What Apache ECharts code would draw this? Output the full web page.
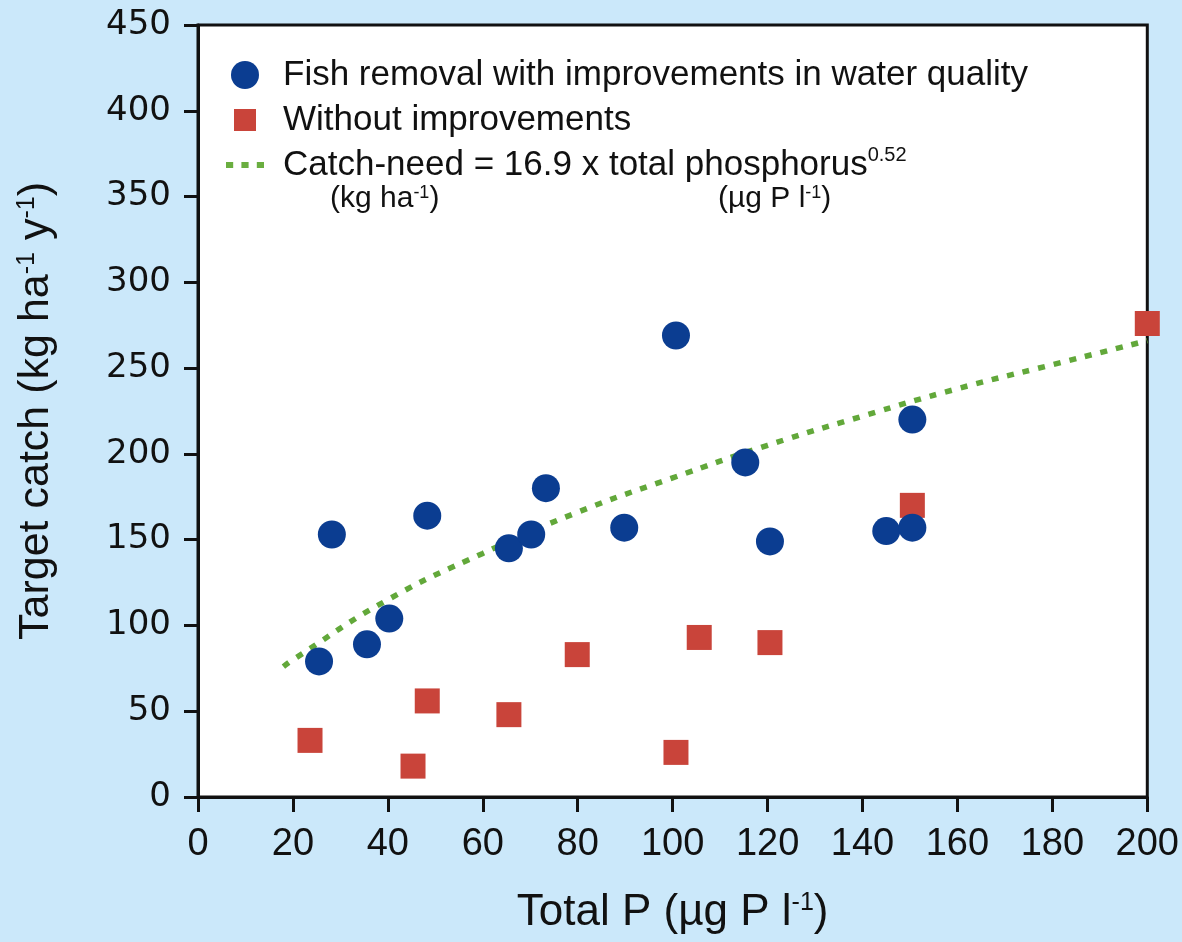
<!DOCTYPE html>
<html>
<head>
<meta charset="utf-8">
<script src="https://cdn.jsdelivr.net/npm/echarts@6/dist/echarts.min.js"></script>
<style>
html,body{margin:0;padding:0;background:#cbe8fa;}
#chart{width:1182px;height:942px;}
</style>
</head>
<body>
<div id="chart"></div>
<script>
// Data
const withImprovements = [
  [25.5, 79], [28.2, 153], [35.6, 89], [40.3, 104], [48.3, 164],
  [65.5, 145], [70.2, 153], [73.3, 180], [89.8, 157], [100.7, 269],
  [115.3, 195], [120.5, 149], [145, 155], [150.5, 157], [150.5, 220]
];
const withoutImprovements = [
  [23.6, 33], [45.3, 18], [48.3, 56], [65.5, 48], [79.9, 83],
  [100.7, 26], [105.6, 93], [120.5, 90], [150.5, 170], [200, 276]
];
const catchNeedCurve = [
  [18, 76], [20, 80], [40, 115], [60, 142], [80, 166], [100, 186],
  [120, 205], [140, 222], [160, 238], [180, 252], [200, 266]
];
const seriesNames = [
  'Fish removal with improvements in water quality',
  'Without improvements',
  'Catch-need = 16.9 x total phosphorus'
];
const xTicks = { min: 0, max: 200, interval: 20 };
const yTicks = { min: 0, max: 450, interval: 50 };

const FONT = '"Liberation Sans", Arial, sans-serif';
const chart = echarts.init(document.getElementById('chart'), null, {renderer: 'canvas'});
chart.setOption({
  backgroundColor: '#cbe8fa',
  animation: false,
  grid: {
    left: 198, right: 33, top: 25, bottom: 145,
    show: true, backgroundColor: '#ffffff', borderColor: '#111', borderWidth: 3
  },
  xAxis: {
    type: 'value', min: xTicks.min, max: xTicks.max, interval: xTicks.interval,
    name: 'Total P (µg P l{s|-1})',
    nameLocation: 'middle', nameGap: 94,
    nameTextStyle: {
      fontFamily: FONT, fontSize: 44, color: '#111',
      rich: { s: { fontFamily: FONT, fontSize: 25, color: '#111', verticalAlign: 'top', padding: [0,0,15,0] } }
    },
    axisLine: { lineStyle: { color: '#111', width: 3 } },
    axisTick: { show: true, inside: false, length: 15, lineStyle: { color: '#111', width: 3 } },
    axisLabel: { fontFamily: FONT, fontSize: 38, color: '#111', margin: 29 },
    splitLine: { show: false }
  },
  yAxis: {
    type: 'value', min: yTicks.min, max: yTicks.max, interval: yTicks.interval,
    name: 'Target catch (kg ha{s|-1} y{s|-1})',
    nameLocation: 'middle', nameGap: 140,
    nameTextStyle: {
      fontFamily: FONT, fontSize: 43, color: '#111',
      rich: { s: { fontFamily: FONT, fontSize: 25, color: '#111', verticalAlign: 'top', padding: [0,0,14,0] } }
    },
    axisLine: { show: true, lineStyle: { color: '#111', width: 3 } },
    axisTick: { show: true, inside: false, length: 14, lineStyle: { color: '#111', width: 3 } },
    axisLabel: { fontFamily: '"DejaVu Sans", sans-serif', fontSize: 34, color: '#111', margin: 27 },
    splitLine: { show: false }
  },
  legend: {
    orient: 'vertical', left: 221, top: 50,
    itemWidth: 38, itemHeight: 28, itemGap: 5,
    data: [
      { name: seriesNames[0], icon: 'circle' },
      { name: seriesNames[1], icon: 'path://M0,0M28,28M3,3h22v22h-22z' },
      { name: seriesNames[2], icon: 'path://M0,0h7v6h-7z M15,0h7v6h-7z M30,0h7v6h-7z' }
    ],
    textStyle: {
      fontFamily: FONT, fontSize: 35, color: '#111', lineHeight: 40, padding: [0,0,0,14],
      rich: { s: { fontFamily: FONT, fontSize: 20, color: '#111', verticalAlign: 'top', padding: [0,0,16,0] } }
    },
    formatter: function (name) {
      return name === seriesNames[2] ? name + '{s|0.52}' : name;
    }
  },
  graphic: [
    { type: 'text', left: 330, top: 184, style: {
        text: '(kg ha{s|-1})', font: '30px ' + FONT, fill: '#111',
        rich: { s: { fontFamily: FONT, fontSize: 18, fill: '#111', verticalAlign: 'top', padding: [0,0,11,0] } } } },
    { type: 'text', left: 718, top: 184, style: {
        text: '(µg P l{s|-1})', font: '30px ' + FONT, fill: '#111',
        rich: { s: { fontFamily: FONT, fontSize: 18, fill: '#111', verticalAlign: 'top', padding: [0,0,11,0] } } } }
  ],
  series: [
    {
      name: seriesNames[2], type: 'line', data: catchNeedCurve, smooth: true,
      showSymbol: false, symbol: 'none', z: 1,
      lineStyle: { color: '#62a83a', width: 5.5, type: [7, 9] },
      itemStyle: { color: '#6aae40' }
    },
    {
      name: seriesNames[1], type: 'scatter', data: withoutImprovements, symbol: 'rect',
      symbolSize: 25, z: 2, clip: false,
      itemStyle: { color: '#c9443a', opacity: 1 }
    },
    {
      name: seriesNames[0], type: 'scatter', data: withImprovements, symbol: 'circle',
      symbolSize: 28, z: 3, clip: false,
      itemStyle: { color: '#0b3d91', opacity: 1 }
    }
  ]
});
</script>
</body>
</html>
